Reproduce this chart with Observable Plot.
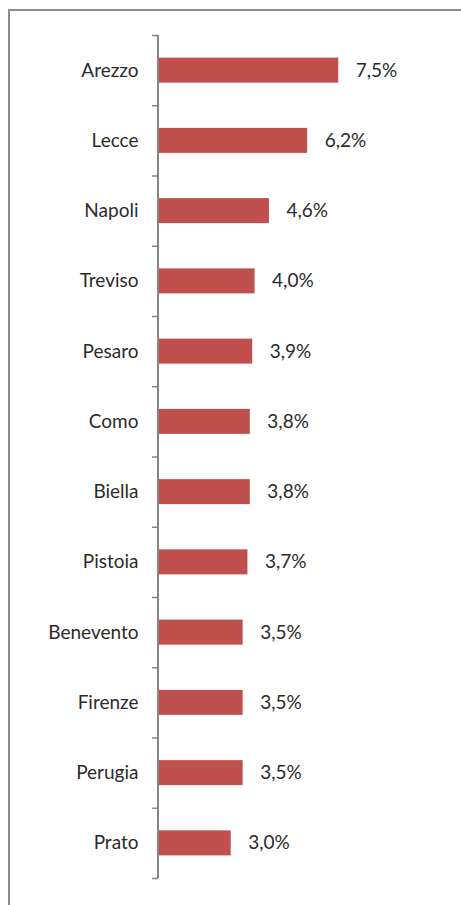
<!DOCTYPE html>
<html>
<head>
<meta charset="utf-8">
<script src="https://cdn.jsdelivr.net/npm/d3@7"></script>
<script src="https://cdn.jsdelivr.net/npm/@observablehq/plot@0.6"></script>
<style>
  html, body { margin: 0; padding: 0; background: #fff; }
  #wrap { position: relative; width: 461px; height: 905px; overflow: hidden; }
  #frame { position: absolute; left: 8px; top: 9px; width: 470px; height: 920px;
           border-top: 2px solid #8c8c8c; border-left: 2px solid #8c8c8c; pointer-events: none; }
  #chart { position: absolute; left: 0; top: 0; }
</style>
</head>
<body>
<div id="wrap">
  <div id="chart"></div>
  <div id="frame"></div>
</div>
<script>
const cities = ["Arezzo", "Lecce", "Napoli", "Treviso", "Pesaro", "Como", "Biella", "Pistoia", "Benevento", "Firenze", "Perugia", "Prato"];
const values = [7.5, 6.2, 4.6, 4.0, 3.9, 3.8, 3.8, 3.7, 3.5, 3.5, 3.5, 3.0];
const valueLabels = ["7,5%", "6,2%", "4,6%", "4,0%", "3,9%", "3,8%", "3,8%", "3,7%", "3,5%", "3,5%", "3,5%", "3,0%"];

const data = cities.map((c, i) => ({city: c, i, value: values[i], label: valueLabels[i]}));
const half = 0.178;
const font = "Lato, 'Open Sans', sans-serif";

const chart = Plot.plot({
  width: 461,
  height: 905,
  marginLeft: 159,
  marginRight: 63,
  marginTop: 35,
  marginBottom: 27,
  style: {fontFamily: font, fontSize: "19px", color: "#2b2b2b", background: "transparent"},
  x: {domain: [0, 10], axis: null},
  y: {domain: [0, 12], reverse: true, axis: null},
  marks: [
    Plot.rect(data, {x1: 0, x2: "value", y1: d => d.i + 0.5 - half, y2: d => d.i + 0.5 + half, fill: "#C0504D"}),
    Plot.axisY({anchor: "left", ticks: d3.range(13), tickSize: 6, tickFormat: () => "", stroke: "#868686", strokeWidth: 1.5, dx: -1}),
    Plot.ruleX([0], {y1: 0, y2: 12, stroke: "#868686", strokeWidth: 2, dx: -1.5}),
    Plot.axisY({anchor: "left", ticks: data.map(d => d.i + 0.5), tickFormat: v => cities[Math.round(v - 0.5)], tickSize: 0, tickPadding: 21, fontSize: 19, fontWeight: "normal", fill: "#2b2b2b"}),
    Plot.text(data, {x: "value", y: d => d.i + 0.5, text: "label", textAnchor: "start", dx: 17, fontSize: 19, fontWeight: "normal", fill: "#2b2b2b"})
  ]
});
document.getElementById("chart").appendChild(chart);
</script>
</body>
</html>
